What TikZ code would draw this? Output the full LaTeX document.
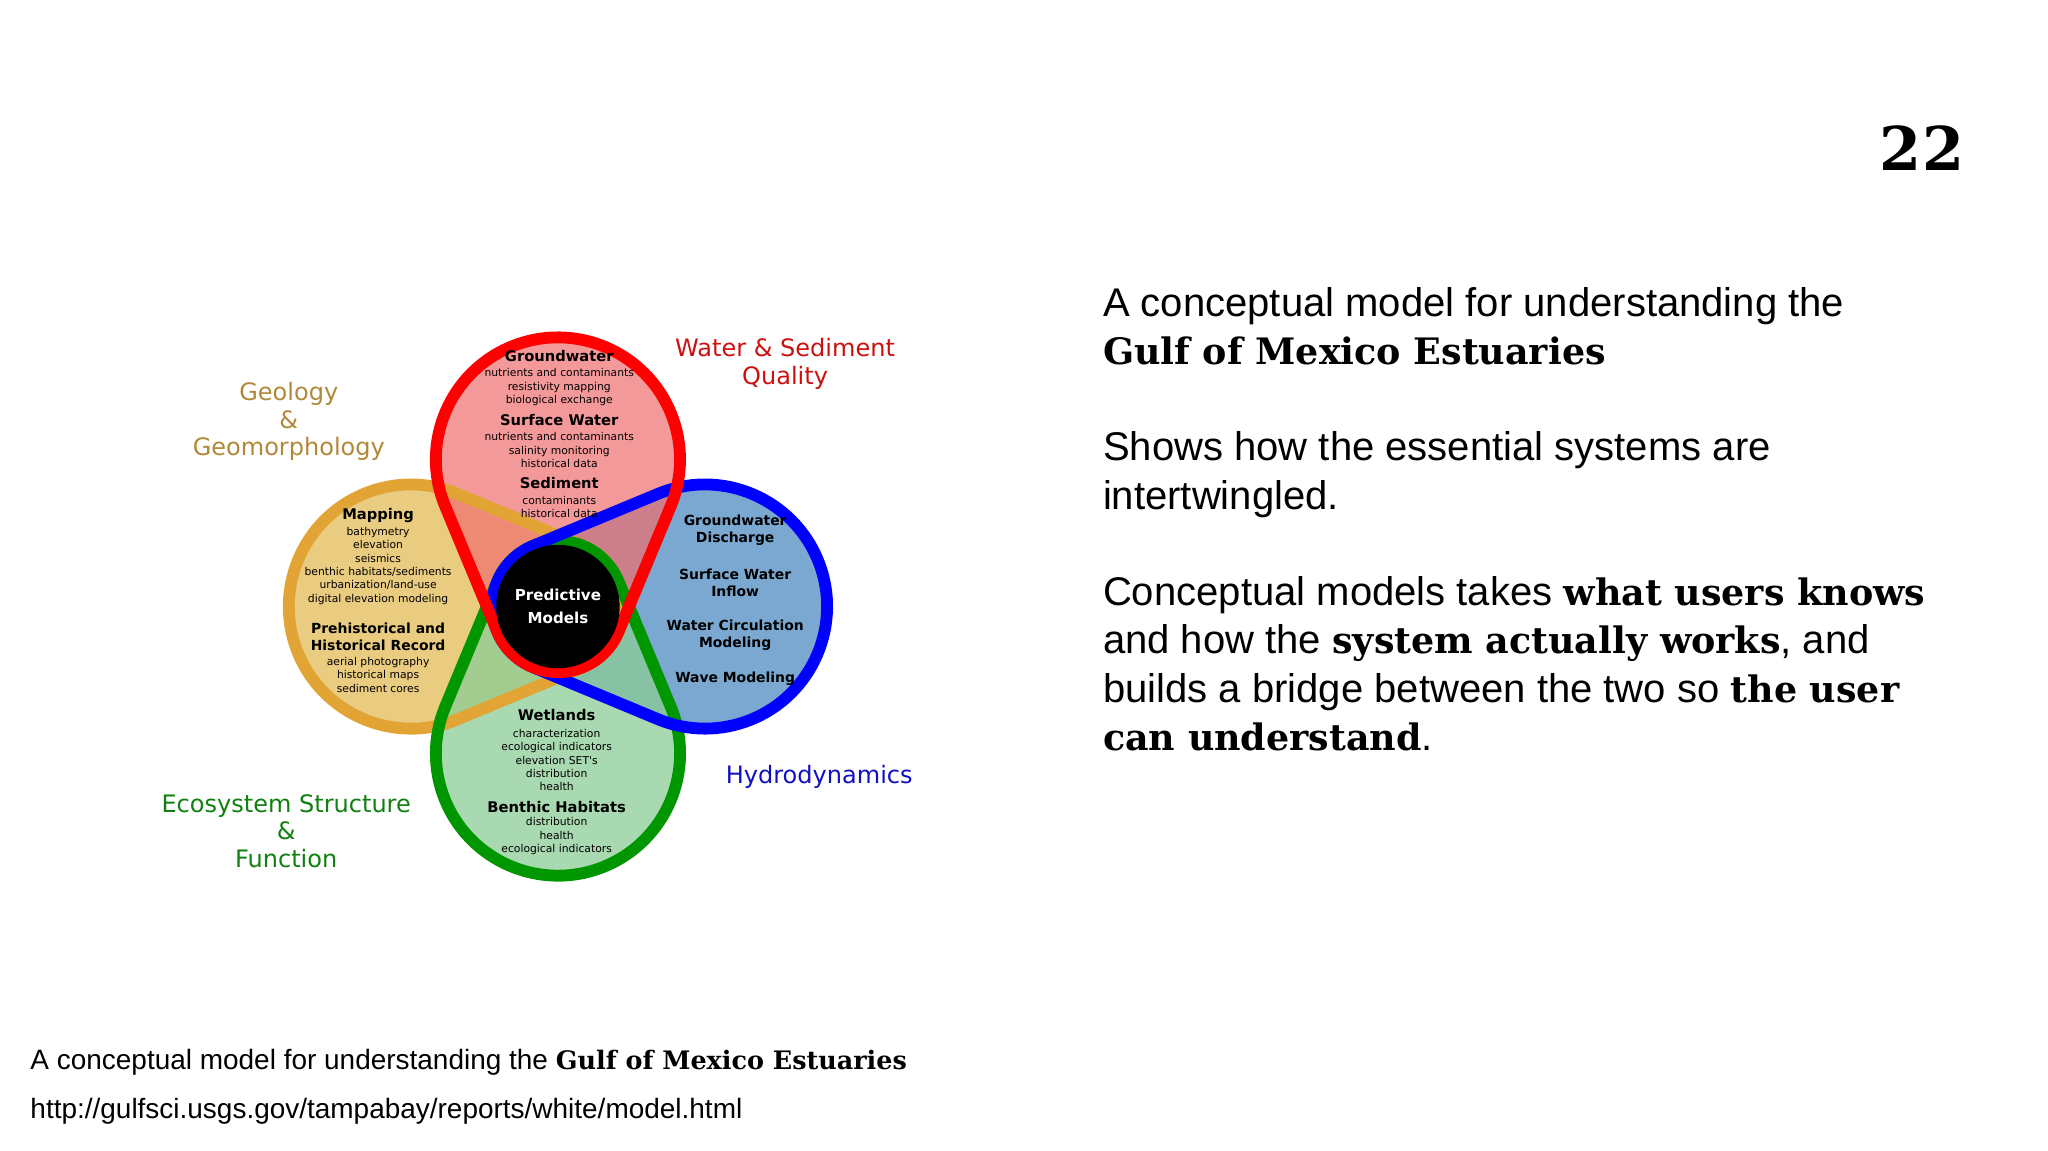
\documentclass[tikz,border=0pt]{standalone}
\usepackage{fontspec}
\setmainfont{Liberation Sans}
\newfontfamily\dv{DejaVu Sans}
\newfontfamily\heavy{DejaVu Serif}[Scale=0.91]
\newfontfamily\heavyn{DejaVu Serif}
\newcommand\hvb{\heavy\bfseries}
\begin{document}
\begin{tikzpicture}[x=1pt,y=-1pt,
  hd/.style={font=\dv\bfseries\fontsize{11.2}{12}\selectfont,align=center,inner sep=0},
  bh/.style={font=\dv\bfseries\fontsize{10.6}{13}\selectfont,align=center,inner sep=0},
  dt/.style={font=\dv\fontsize{8.2}{10.2}\selectfont,align=center,inner sep=0},
  lab/.style={font=\dv\fontsize{18.3}{21}\selectfont,align=center,inner sep=0},
  rt/.style={font=\fontsize{30.5}{37}\selectfont,anchor=base west,inner sep=0}]
\definecolor{rS}{RGB}{255,0,0}\definecolor{rF}{RGB}{240,110,110}
\definecolor{oS}{RGB}{226,164,52}\definecolor{oF}{RGB}{234,204,128}
\definecolor{bS}{RGB}{0,0,255}\definecolor{bF}{RGB}{122,168,208}
\definecolor{gS}{RGB}{0,150,0}\definecolor{gF}{RGB}{140,204,150}
\useasboundingbox (0,0) rectangle (1560,876);
\newcommand\tdrop[1]{[shift={(425,462)},rotate=#1] ([shift={(-112:93)}]112,0) arc[start angle=-112,end angle=112,radius=93] -- (112:50) arc[start angle=112,end angle=248,radius=50] -- cycle}
% fills
\fill[oF] \tdrop{180};
\fill[bF] \tdrop{0};
\fill[gF,opacity=0.75] \tdrop{270};
\fill[rF,opacity=0.7] \tdrop{90};
% strokes
\begin{scope}[line width=9]
\draw[oS] \tdrop{180};
\draw[gS] \tdrop{270};
\draw[bS] \tdrop{0};
\draw[rS] \tdrop{90};
\end{scope}
\node[circle,fill=black,minimum size=94,inner sep=0] (pm) at (425,462) {};
\node[hd,text=white,font=\dv\bfseries\fontsize{11.5}{18}\selectfont] at (425,462) {Predictive\\Models};
% red
\node[hd] (r1) at (426,271) {Groundwater};
\node[dt] at (426,295) {nutrients and contaminants\\resistivity mapping\\biological exchange};
\node[hd] at (426,320) {Surface Water};
\node[dt] at (426,343) {nutrients and contaminants\\salinity monitoring\\historical data};
\node[hd] at (426,368) {Sediment};
\node[dt] at (426,386) {contaminants\\historical data};
% orange
\node[hd] at (288,393) {Mapping};
\node[dt] at (288,431) {bathymetry\\elevation\\seismics\\benthic habitats/sediments\\urbanization/land-use\\digital elevation modeling};
\node[bh] at (288,485) {Prehistorical and\\Historical Record};
\node[dt] at (288,514) {aerial photography\\historical maps\\sediment cores};
% blue
\node[bh] at (560,404) {Groundwater\\Discharge};
\node[bh] at (560,444) {Surface Water\\Inflow};
\node[bh] at (560,484) {Water Circulation\\Modeling};
\node[bh] at (560,517) {Wave Modeling};
% green
\node[hd] at (424,545) {Wetlands};
\node[dt] at (424,579) {characterization\\ecological indicators\\elevation SET's\\distribution\\health};
\node[hd] at (424,615) {Benthic Habitats};
\node[dt] at (424,637) {distribution\\health\\ecological indicators};
% outer labels
\node[lab,text={rgb,255:red,176;green,136;blue,56}] at (220,321) {Geology\\\&\\Geomorphology};
\node[lab,text={rgb,255:red,204;green,16;blue,16}] at (598,277) {Water \& Sediment\\Quality};
\node[lab,text={rgb,255:red,16;green,16;blue,192}] at (624,592) {Hydrodynamics};
\node[lab,text={rgb,255:red,16;green,128;blue,16}] at (218,633) {Ecosystem Structure\\\&\\Function};
% page number
\node[font=\heavyn\bfseries\fontsize{46}{50}\selectfont,inner sep=0] at (1464,113) {22};
% right text
\node[rt] at (840,241) {A conceptual model for understanding the};
\node[rt] at (840,278) {\hvb Gulf of Mexico Estuaries};
\node[rt] at (840,351) {Shows how the essential systems are};
\node[rt] at (840,388) {intertwingled.};
\node[rt] at (840,461) {Conceptual models takes {\hvb what users knows}};
\node[rt] at (840,498) {and how the {\hvb system actually works}, and};
\node[rt] at (840,535) {builds a bridge between the two so {\hvb the user}};
\node[rt] at (840,572) {{\hvb can understand}.};
% footer
\node[rt,font=\fontsize{21.3}{24}\selectfont] at (23,815) {A conceptual model for understanding the {\hvb Gulf of Mexico Estuaries}};
\node[rt,font=\fontsize{21.3}{24}\selectfont] at (23,852) {http://gulfsci.usgs.gov/tampabay/reports/white/model.html};
\end{tikzpicture}
\end{document}
